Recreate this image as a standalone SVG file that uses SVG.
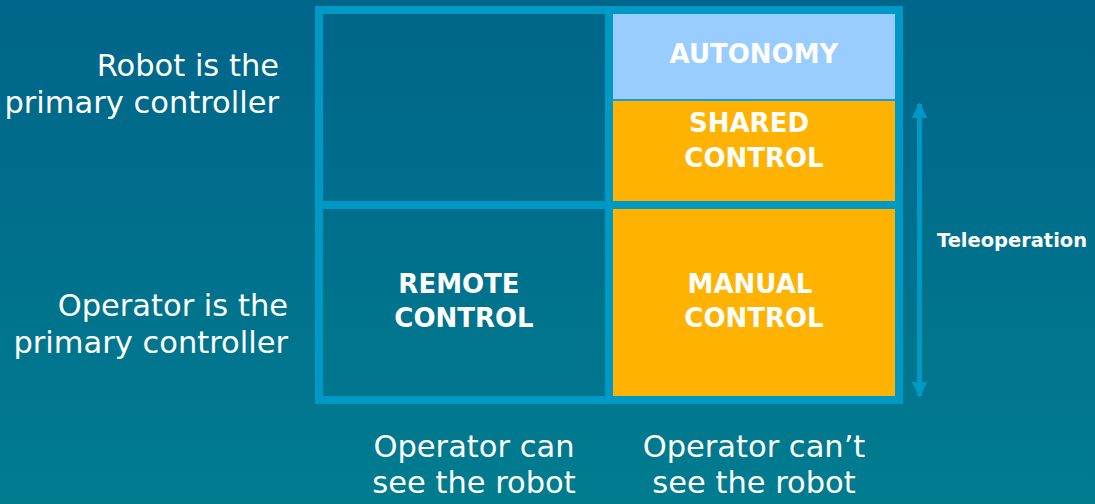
<svg xmlns="http://www.w3.org/2000/svg" width="1095" height="504" viewBox="0 0 1095 504">
  <defs>
    <linearGradient id="bg" x1="0" y1="0" x2="0" y2="1">
      <stop offset="0" stop-color="#00658a"/>
      <stop offset="1" stop-color="#007c8f"/>
    </linearGradient>
    <marker id="ah" viewBox="0 0 10 10" refX="9" refY="5" markerWidth="16" markerHeight="16" markerUnits="userSpaceOnUse" orient="auto-start-reverse">
      <path d="M0,0 L10,5 L0,10 Z" fill="#0099c6"/>
    </marker>
    <style>
      .lbl { font-family: "DejaVu Sans", "Verdana", sans-serif; font-size: 30.5px; fill: #ffffff; }
      .cell { font-family: "DejaVu Sans", "Verdana", sans-serif; font-size: 26px; font-weight: bold; fill: #ffffff; text-anchor: middle; }
      .frame { fill: #0099c6; }
    </style>
  </defs>
  <rect x="0" y="0" width="1095" height="504" fill="url(#bg)"/>

  <g id="frame">
    <rect class="frame" x="315" y="6" width="588" height="8"/>
    <rect class="frame" x="315" y="396" width="588" height="8"/>
    <rect class="frame" x="315" y="6" width="8" height="398"/>
    <rect class="frame" x="895" y="6" width="8" height="398"/>
    <rect class="frame" x="323" y="201" width="572" height="8"/>
    <rect class="frame" x="605" y="14" width="8" height="382"/>
  </g>

  <g id="autonomy">
    <rect x="613" y="14" width="282" height="85" fill="#99ccff"/>
    <text class="cell" x="754" y="63">AUTONOMY</text>
  </g>
  <g id="shared-control">
    <rect x="613" y="99" width="282" height="2" fill="#1c9ad2"/>
    <rect x="613" y="101" width="282" height="100" fill="#ffb300"/>
    <text class="cell" x="749" y="132">SHARED</text>
    <text class="cell" x="754" y="167">CONTROL</text>
  </g>
  <g id="manual-control">
    <rect x="613" y="209" width="282" height="187" fill="#ffb300"/>
    <text class="cell" x="750" y="293">MANUAL</text>
    <text class="cell" x="754" y="327">CONTROL</text>
  </g>
  <g id="remote-control">
    <text class="cell" x="459" y="293">REMOTE</text>
    <text class="cell" x="464" y="327">CONTROL</text>
  </g>

  <g id="connectors">
    <line x1="919.5" y1="104" x2="919.5" y2="396" stroke="#0099c6" stroke-width="5" marker-start="url(#ah)" marker-end="url(#ah)"/>
  </g>
  <g id="teleoperation-label">
    <text x="937" y="247" font-family="DejaVu Sans, Verdana, sans-serif" font-size="19.5" font-weight="bold" fill="#ffffff" textLength="150" lengthAdjust="spacingAndGlyphs">Teleoperation</text>
  </g>

  <g id="row-labels">
    <text class="lbl" x="279" y="76" text-anchor="end">Robot is the</text>
    <text class="lbl" x="279" y="113" text-anchor="end">primary controller</text>
    <text class="lbl" x="288" y="316" text-anchor="end">Operator is the</text>
    <text class="lbl" x="288" y="353" text-anchor="end">primary controller</text>
  </g>
  <g id="column-labels">
    <text class="lbl" x="474" y="457" text-anchor="middle">Operator can</text>
    <text class="lbl" x="474" y="493" text-anchor="middle">see the robot</text>
    <text class="lbl" x="754" y="457" text-anchor="middle">Operator can’t</text>
    <text class="lbl" x="754" y="493" text-anchor="middle">see the robot</text>
  </g>
</svg>
